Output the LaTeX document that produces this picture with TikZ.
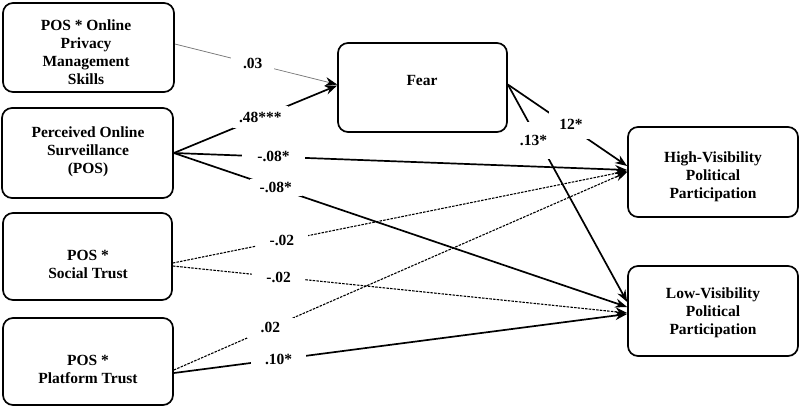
\documentclass[tikz,border=0pt]{standalone}
\usepackage{fontspec}
\setmainfont{Liberation Serif}
\usetikzlibrary{arrows.meta,calc}
\begin{document}
\begin{tikzpicture}[x=1pt,y=-1pt,
  box/.style={draw, line width=1.7pt, rounded corners=10pt, inner sep=0pt},
  txt/.style={align=center, font=\fontsize{15.5}{18}\selectfont\bfseries, inner sep=0pt},
  lab/.style={fill=white, font=\fontsize{15.5}{18}\selectfont\bfseries, inner xsep=10pt, inner ysep=3pt},
  tip/.style={-{Stealth[length=12pt,width=9pt,color=black]}},
  solidln/.style={tip, line width=1.7pt},
  dashln/.style={tip, line width=1.1pt, dash pattern=on 2.5pt off 1.2pt},
  thinln/.style={tip, line width=0.7pt, draw=black!55}]
\useasboundingbox (0,0) rectangle (800,408);

% boxes
\node[box, minimum width=171pt, minimum height=89pt] (b1) at (88.5,47.5) {};
\node[box, minimum width=171pt, minimum height=90pt] (b2) at (87.5,153) {};
\node[box, minimum width=169pt, minimum height=87pt] (b3) at (87.5,256.5) {};
\node[box, minimum width=170pt, minimum height=87pt] (b4) at (88,361.5) {};
\node[box, minimum width=169pt, minimum height=89pt] (fear) at (422.5,87.5) {};
\node[box, minimum width=170pt, minimum height=90pt] (high) at (713,172) {};
\node[box, minimum width=170pt, minimum height=90pt] (low) at (713,311) {};

% texts
\node[txt] (b1t) at (86,52) {POS * Online\\Privacy\\Management\\Skills};
\node[txt] (b2t) at (88,152) {Perceived Online\\Surveillance\\(POS)};
\node[txt] (b3t) at (88,264) {POS *\\Social Trust};
\node[txt] (b4t) at (88,369) {POS *\\Platform Trust};
\node[txt] (feart) at (422,80) {Fear};
\node[txt] (hight) at (713,177) {High-Visibility\\Political\\Participation};
\node[txt] (lowt) at (713,313) {Low-Visibility\\Political\\Participation};

% connectors
\draw[thinln] ($(b1.east)+(0,-3.5)$) -- node[lab, pos=0.48, inner xsep=12pt] (l1) {.03} ($(fear.west)+(0,-3)$);
\draw[solidln] (b2.east) -- node[lab, pos=0.53, inner xsep=6pt, inner ysep=6pt] (l2) {.48***} ($(fear.west)+(0,-2)$);
\draw[solidln] (b2.east) -- node[lab, pos=0.22, inner xsep=15pt] (l3) {-.08*} ($(high.west)+(0,-2)$);
\draw[solidln] (b2.east) -- node[lab, pos=0.225, inner xsep=10pt] (l4) {-.08*} ($(low.west)+(0,-4)$);
\draw[solidln] ($(fear.east)+(0,-3)$) -- node[lab, pos=0.53, inner xsep=10pt, inner ysep=9pt, yshift=3pt] (l5) {12*} ($(high.west)+(0,-6)$);
\draw[solidln] ($(fear.east)+(0,-3)$) -- node[lab, pos=0.24, inner xsep=6pt, inner ysep=13pt, yshift=-4pt, xshift=-3pt] (l6) {.13*} ($(low.west)+(0,-9)$);
\draw[dashln] ($(b3.east)+(0,6.5)$) -- node[lab, pos=0.24, inner xsep=14pt] (l7) {-.02} ($(high.west)+(0,-1)$);
\draw[dashln] ($(b3.east)+(0,9.5)$) -- node[lab, pos=0.233, inner xsep=14pt] (l8) {-.02} ($(low.west)+(0,2)$);
\draw[dashln] ($(b4.east)+(0,8.5)$) -- node[lab, pos=0.213, inner xsep=14pt, inner ysep=5pt] (l9) {.02} ($(high.west)+(0,0)$);
\draw[solidln] ($(b4.east)+(0,11.5)$) -- node[lab, pos=0.231, inner xsep=14pt] (l10) {.10*} ($(low.west)+(0,3)$);
\end{tikzpicture}
\end{document}
